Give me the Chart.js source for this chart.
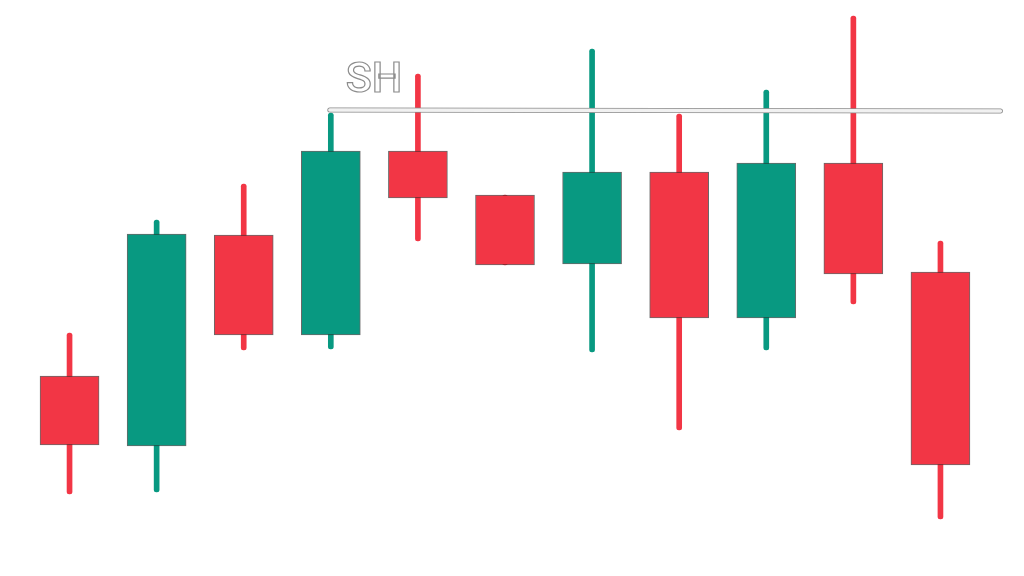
<!DOCTYPE html>
<html lang="en">
<head>
    <meta charset="UTF-8">
    <title>Candles - SH</title>
    <script src="https://cdn.jsdelivr.net/npm/chart.js"></script>
    <style>
        html, body { margin: 0; padding: 0; background: #ffffff; }
        .chart-box { width: 1024px; height: 576px; }
    </style>
</head>
<body>
    <div class="chart-box">
        <canvas id="candleChart"></canvas>
    </div>
    <script>
        // candle data (price units)
        const labels = ["1", "2", "3", "4", "5", "6", "7", "8", "9", "10", "11"];
        const opens  = [200, 130, 341, 241, 425, 381, 312, 404, 258, 413, 304];
        const closes = [131, 342, 241, 425, 378, 311, 404, 258, 413, 302, 111];
        const highs  = [243, 356, 392, 463, 502, 381, 527, 462, 486, 560, 335];
        const lows   = [82, 84, 226, 227, 335, 311, 224, 146, 226, 272, 57];

        // swing high level
        const shLabel = "SH";
        const shLevel = [466];
        const shFromIndex = 3;

        const upColor = "#089981";
        const downColor = "#f23645";
        const candleColors = opens.map((o, i) => closes[i] >= o ? upColor : downColor);

        // draws the SH line and its outlined text on top of the candles
        const swingHighPlugin = {
            id: "swingHigh",
            afterDatasetsDraw(chart) {
                const ctx = chart.ctx;
                const x = chart.scales.x;
                const y = chart.scales.y;
                const yPix = y.getPixelForValue(shLevel[0]);
                const x0 = x.getPixelForValue(shFromIndex) - 1;
                const x1 = x.getPixelForValue(labels.length - 1) + 60;

                ctx.save();
                ctx.lineCap = "round";
                ctx.strokeStyle = "#8a8a8a";
                ctx.lineWidth = 5;
                ctx.beginPath();
                ctx.moveTo(x0, yPix);
                ctx.lineTo(x1, yPix + 1);
                ctx.stroke();
                ctx.strokeStyle = "rgba(255,255,255,0.88)";
                ctx.lineWidth = 3.4;
                ctx.beginPath();
                ctx.moveTo(x0, yPix);
                ctx.lineTo(x1, yPix + 1);
                ctx.stroke();

                ctx.font = "500 43px Roboto";
                ctx.textBaseline = "alphabetic";
                ctx.textAlign = "left";
                ctx.lineWidth = 1.2;
                ctx.strokeStyle = "#8c8c8c";
                ctx.fillStyle = "#ffffff";
                ctx.fillText(shLabel, x0 + 16, yPix - 18);
                ctx.strokeText(shLabel, x0 + 16, yPix - 18);
                ctx.restore();
            }
        };

        new Chart(document.getElementById("candleChart"), {
            type: "bar",
            data: {
                labels: labels,
                datasets: [
                    {
                        label: "body",
                        data: opens.map((o, i) => [o, closes[i]]),
                        backgroundColor: candleColors,
                        borderColor: "rgba(40,40,40,0.7)",
                        borderWidth: 1,
                        borderSkipped: false,
                        barThickness: 59,
                        grouped: false,
                        order: 0
                    },
                    {
                        label: "wick",
                        data: lows.map((l, i) => [l, highs[i]]),
                        backgroundColor: candleColors,
                        borderWidth: 0,
                        borderRadius: 3,
                        borderSkipped: false,
                        barThickness: 5,
                        grouped: false,
                        order: 1
                    }
                ]
            },
            options: {
                responsive: true,
                maintainAspectRatio: false,
                animation: false,
                layout: { padding: { left: 26, right: 40, top: 0, bottom: 0 } },
                plugins: {
                    legend: { display: false },
                    tooltip: { enabled: false }
                },
                scales: {
                    x: { display: false, offset: true },
                    y: { display: false, min: 0, max: 576 }
                }
            },
            plugins: [swingHighPlugin]
        });
    </script>
</body>
</html>
